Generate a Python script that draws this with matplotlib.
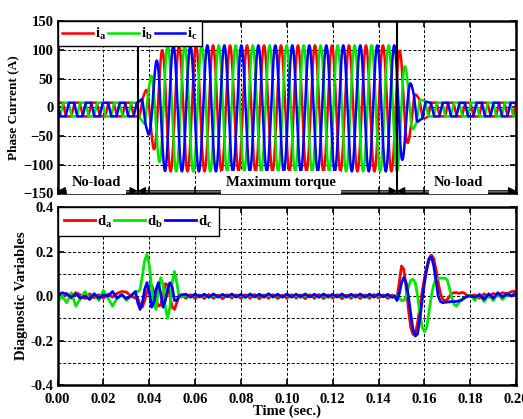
import numpy as np
import matplotlib
matplotlib.use("Agg")
import matplotlib.pyplot as plt

plt.rcParams['font.family'] = ['Liberation Serif', 'DejaVu Serif']
plt.rcParams['font.weight'] = 'bold'
plt.rcParams['mathtext.fontset'] = 'custom'
plt.rcParams['mathtext.rm'] = 'Liberation Serif:bold'
plt.rcParams['mathtext.it'] = 'Liberation Serif:bold'
plt.rcParams['mathtext.bf'] = 'Liberation Serif:bold'

# --- phase currents: envelope ---
f_elec = 135.0  # Hz, counted from the waveform
env_t   = [0.0, 0.035, 0.037, 0.039, 0.041, 0.043, 0.045, 0.047, 0.148, 0.150, 0.152, 0.154, 0.156, 0.158, 0.162, 0.2]
env_amp = [12, 12, 20, 38, 60, 82, 98, 110, 110, 95, 70, 45, 28, 18, 12, 12]
env_off = [-4, -4, -4, -3, -3, -2, -2, -2, -2, -2, -3, -3, -4, -4, -4, -4]
t_load = [0.035, 0.148]
regions = [(0.0, 0.035, 0.0168, "No-load"),
           (0.035, 0.148, 0.0975, "Maximum torque"),
           (0.148, 0.2, 0.175, "No-load")]

# --- diagnostic variables ---
t_d = np.concatenate([np.arange(0.0, 0.0345, 0.002), np.arange(0.035, 0.0545, 0.001),
                      np.arange(0.056, 0.1465, 0.002), np.arange(0.147, 0.1805, 0.001),
                      np.arange(0.182, 0.2005, 0.002)])
d_a = ([0.010, -0.008, 0.012, -0.010, 0.015, 0.005, -0.012, 0.010, -0.008, 0.006, -0.010, 0.008, -0.005, 0.012, 0.020, 0.018, 0.000, -0.010]
       + [-0.01, -0.04, -0.05, -0.02, 0.02, 0.045, 0.05, 0.02, -0.02, -0.045, -0.04, 0.0, 0.055, 0.05, 0.0, -0.05, -0.06, -0.03, 0.0, 0.005]
       + [-0.010, 0.006, -0.012, 0.005, -0.011, 0.007, -0.010, 0.004, -0.012, 0.006, -0.009, 0.005, -0.011, 0.006, -0.010, 0.007,
          -0.012, 0.005, -0.010, 0.006, -0.011, 0.004, -0.010, 0.006, -0.009, 0.005, -0.012, 0.006, -0.010, 0.007, -0.011, 0.005,
          -0.010, 0.006, -0.012, 0.004, -0.010, 0.006, -0.011, 0.005, -0.010, 0.007, -0.009, 0.005, -0.010, 0.004]
       + [0.0, -0.01, 0.06, 0.135, 0.12, 0.04, -0.06, -0.14, -0.172, -0.17, -0.12, -0.05, 0.02, 0.08, 0.13, 0.17, 0.184,
          0.17, 0.12, 0.06, 0.01, -0.015, -0.022, -0.015, 0.0, 0.012, 0.015, 0.015, 0.012, 0.015, 0.015, 0.008, 0.0, 0.002]
       + [0.005, -0.01, 0.01, -0.005, 0.012, 0.0, 0.015, 0.01, 0.02, 0.022])
d_b = ([-0.025, 0.0, -0.03, 0.015, -0.045, -0.01, 0.02, -0.015, 0.01, -0.02, 0.025, -0.01, -0.045, -0.01, 0.01, -0.02, 0.0, 0.02]
       + [0.02, 0.03, 0.09, 0.16, 0.187, 0.14, 0.04, -0.04, -0.06, 0.03, 0.082, 0.05, -0.05, -0.10, -0.05, 0.06, 0.11, 0.06, 0.0, -0.005]
       + [0.004, -0.006, 0.007, -0.005, 0.006, -0.007, 0.005, -0.006, 0.007, -0.004, 0.006, -0.006, 0.005, -0.007, 0.006, -0.005,
          0.007, -0.006, 0.004, -0.006, 0.006, -0.005, 0.007, -0.006, 0.005, -0.007, 0.006, -0.004, 0.006, -0.006, 0.005, -0.007,
          0.006, -0.005, 0.007, -0.006, 0.004, -0.006, 0.006, -0.005, 0.007, -0.006, 0.005, -0.004, 0.006, -0.005]
       + [0.0, 0.0, -0.01, -0.02, -0.02, 0.0, 0.04, 0.07, 0.075, 0.06, 0.0, -0.08, -0.14, -0.16, -0.14, -0.07, 0.0,
          0.05, 0.075, 0.08, 0.08, 0.08, 0.08, 0.07, 0.03, -0.01, -0.04, -0.045, -0.03, -0.015, -0.01, -0.005, 0.0, 0.005]
       + [-0.02, 0.01, -0.025, 0.005, -0.02, 0.01, -0.015, 0.005, 0.0, 0.01])
d_c = ([0.0, 0.015, 0.008, -0.005, 0.01, -0.01, 0.0, -0.015, 0.01, -0.01, 0.005, 0.0, 0.02, -0.01, 0.005, -0.012, 0.0, 0.02]
       + [-0.03, -0.06, -0.03, 0.03, 0.06, 0.02, -0.05, -0.03, 0.03, 0.06, 0.01, -0.05, -0.02, 0.03, 0.06, 0.04, -0.02, -0.02, 0.0, 0.005]
       + [0.008, -0.004, 0.009, -0.003, 0.008, -0.005, 0.009, -0.004, 0.007, -0.003, 0.009, -0.004, 0.008, -0.005, 0.009, -0.003,
          0.008, -0.004, 0.010, -0.003, 0.008, -0.005, 0.009, -0.004, 0.008, -0.003, 0.009, -0.004, 0.008, -0.005, 0.009, -0.003,
          0.008, -0.004, 0.009, -0.004, 0.008, -0.003, 0.009, -0.005, 0.008, -0.004, 0.009, -0.003, 0.007, -0.006]
       + [0.0, -0.02, 0.01, 0.06, 0.083, 0.06, 0.0, -0.08, -0.15, -0.18, -0.17, -0.1, -0.02, 0.06, 0.12, 0.165, 0.175,
          0.14, 0.07, 0.0, -0.025, -0.03, -0.028, -0.027, -0.026, -0.025, -0.025, -0.024, -0.022, -0.02, -0.012, -0.005, 0.0, 0.0]
       + [-0.005, 0.005, -0.015, 0.01, -0.01, 0.015, -0.005, 0.01, 0.0, 0.015])

colors = ['#ff0000', '#00e800', '#0000ff']
cur_labels = ['i$_{\\mathbf{a}}$', 'i$_{\\mathbf{b}}$', 'i$_{\\mathbf{c}}$']
d_labels = ['d$_{\\mathbf{a}}$', 'd$_{\\mathbf{b}}$', 'd$_{\\mathbf{c}}$']

fig = plt.figure(figsize=(5.23, 4.19), dpi=100)
ax1 = fig.add_axes([0.110, 0.539, 0.877, 0.410])
ax2 = fig.add_axes([0.110, 0.081, 0.877, 0.425])

# phase currents
t = np.linspace(0, 0.2, 6000)
amp = np.interp(t, env_t, env_amp)
off = np.interp(t, env_t, env_off)
w = np.clip((amp - 12) / 40.0, 0, 1)
for k in range(3):
    s = np.sin(2 * np.pi * f_elec * t - k * 2 * np.pi / 3 + 0.6)
    shape = w * s + (1 - w) * np.clip(1.8 * s, -1, 1)
    ax1.plot(t, off + amp * shape, color=colors[k], lw=1.8, label=cur_labels[k])

for tl in t_load:
    ax1.axvline(tl, color='k', lw=1.5, zorder=5)

for x0, x1, xt, txt in regions:
    ax1.annotate('', xy=(x0, -146), xytext=(x1, -146),
                 arrowprops=dict(arrowstyle='<|-|>', color='k', lw=1.0, mutation_scale=11,
                                 shrinkA=0, shrinkB=0), zorder=6)
    ax1.text(xt, -131, txt, ha='center', va='center', fontsize=10.5, fontweight='bold',
             bbox=dict(facecolor='white', edgecolor='none', pad=3.5), zorder=7)

ax1.set_xlim(0, 0.2)
ax1.set_ylim(-150, 150)
ax1.set_yticks([-150, -100, -50, 0, 50, 100, 150])
ax1.set_xticks(np.arange(0, 0.201, 0.02))
ax1.set_xticklabels([])
ax1.set_ylabel('Phase Current (A)', fontsize=9.5, fontweight='bold', labelpad=3)

# diagnostic variables
for k, dv in enumerate([d_a, d_b, d_c]):
    ax2.plot(t_d, dv, color=colors[k], lw=2.0, label=d_labels[k])
ax2.set_xlim(0, 0.2)
ax2.set_ylim(-0.4, 0.4)
ax2.set_yticks([-0.4, -0.2, 0.0, 0.2, 0.4])
ax2.set_yticks([-0.3, -0.1, 0.1, 0.3], minor=True)
ax2.set_xticks(np.arange(0, 0.201, 0.02))
ax2.set_xticklabels(['%.2f' % v for v in np.arange(0, 0.201, 0.02)])
ax2.set_yticklabels(['-0.4', '-0.2', '0.0', '0.2', '0.4'])
ax2.set_ylabel('Diagnostic Variables', fontsize=10.5, fontweight='bold', labelpad=2)
ax2.set_xlabel('Time (sec.)', fontsize=10.5, fontweight='bold', labelpad=-1)

for ax, bp in ((ax1, 0.3), (ax2, 0.45)):
    ax.grid(True, which='both', color='k', ls=(0, (3, 2)), lw=0.7)
    ax.tick_params(direction='in', top=True, right=True, length=4, width=1.2,
                   labelsize=10.5, pad=3)
    ax.tick_params(axis='x', pad=6)
    ax.tick_params(which='minor', length=0)
    for sp in ax.spines.values():
        sp.set_linewidth(1.8)
    for lab in ax.get_xticklabels() + ax.get_yticklabels():
        lab.set_fontweight('bold')
    leg = ax.legend(loc='upper left', ncol=3, handlelength=2.1,
                    handletextpad=0.15, columnspacing=0.15, borderaxespad=0,
                    borderpad=bp, fancybox=False, edgecolor='k', framealpha=1,
                    prop={'weight': 'bold', 'size': 10.5})
    leg.get_frame().set_linewidth(1.0)
    leg.set_zorder(10)

fig.savefig('out.png', dpi=100)
